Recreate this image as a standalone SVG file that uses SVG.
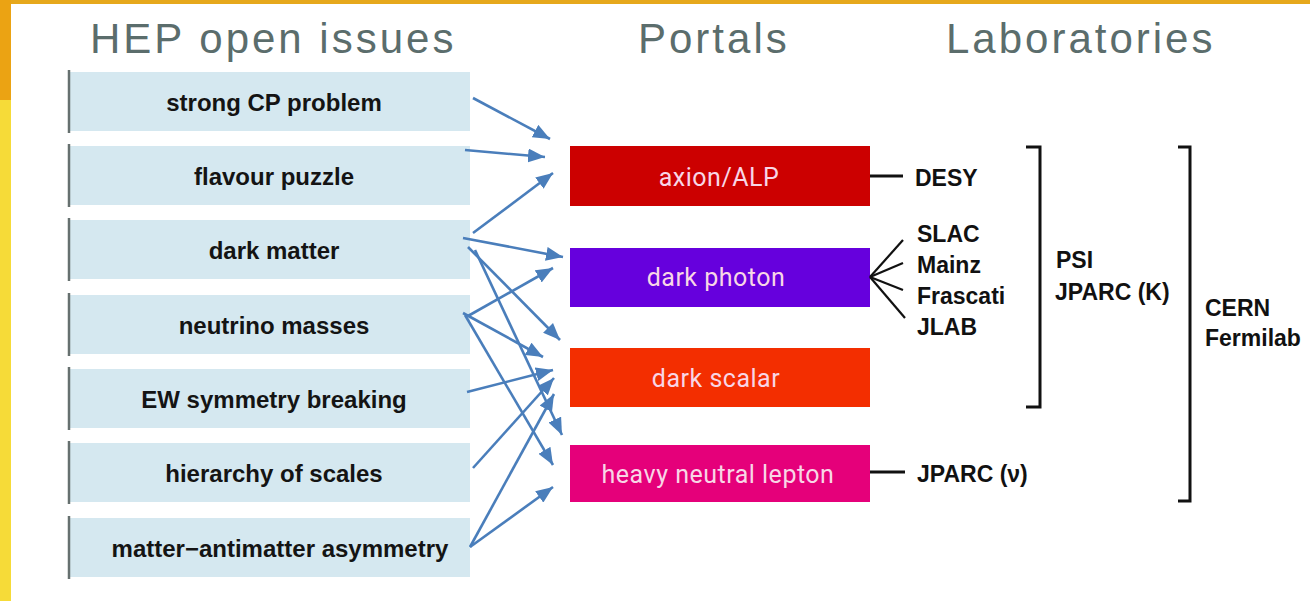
<svg xmlns="http://www.w3.org/2000/svg" width="1310" height="601" viewBox="0 0 1310 601">
  <style>
    .hdr { font-family: "Liberation Sans", Arial, sans-serif; font-size: 42px; fill: #5B6D6C; letter-spacing: 3px; }
    .issue rect.bg { fill: #D5E8F0; }
    .issue line.edge { stroke: #66706F; stroke-width: 2.5; }
    .issue text { font-family: "Liberation Sans", Arial, sans-serif; font-size: 24px; font-weight: bold; fill: #141414; text-anchor: middle; }
    .portal text { font-family: Roboto, "Liberation Sans", sans-serif; font-size: 25px; fill: #F8D6E6; text-anchor: middle; letter-spacing: 0.5px; }
    .lab text { font-family: "Liberation Sans", Arial, sans-serif; font-size: 23px; font-weight: bold; fill: #111; }
    .blk { stroke: #111; stroke-width: 3; fill: none; }
    .thin { stroke: #111; stroke-width: 2.2; fill: none; }
    .arr { stroke: #4A7EBB; stroke-width: 2.6; fill: none; marker-end: url(#ah); }
  </style>
  <defs>
    <marker id="ah" markerUnits="userSpaceOnUse" markerWidth="18" markerHeight="14" refX="17" refY="7" orient="auto">
      <path d="M0,0 L17,7 L0,14 z" fill="#4A7EBB"/>
    </marker>
  </defs>
  <rect x="0" y="0" width="1310" height="601" fill="#FFFFFF"/>
  <!-- frame -->
  <rect x="0" y="0" width="1310" height="4" fill="#E6A81C"/>
  <rect x="0" y="0" width="11" height="100" fill="#EBA313"/>
  <rect x="0" y="100" width="11" height="501" fill="#F6DB38"/>

  <!-- headers -->
  <text class="hdr" x="90" y="53">HEP open issues</text>
  <text class="hdr" x="638" y="53">Portals</text>
  <text class="hdr" x="946" y="53">Laboratories</text>

  <!-- issues -->
  <g id="issue-strongcp" class="issue"><rect class="bg" x="70" y="72" width="400" height="59"/><line class="edge" x1="69" y1="70" x2="69" y2="133"/><text x="274" y="111">strong CP problem</text></g>
  <g id="issue-flavour" class="issue"><rect class="bg" x="70" y="146" width="400" height="59"/><line class="edge" x1="69" y1="144" x2="69" y2="207"/><text x="274" y="185">flavour puzzle</text></g>
  <g id="issue-darkmatter" class="issue"><rect class="bg" x="70" y="220" width="400" height="59"/><line class="edge" x1="69" y1="218" x2="69" y2="281"/><text x="274" y="259">dark matter</text></g>
  <g id="issue-neutrino" class="issue"><rect class="bg" x="70" y="295" width="400" height="59"/><line class="edge" x1="69" y1="293" x2="69" y2="356"/><text x="274" y="334">neutrino masses</text></g>
  <g id="issue-ew" class="issue"><rect class="bg" x="70" y="369" width="400" height="59"/><line class="edge" x1="69" y1="367" x2="69" y2="430"/><text x="274" y="408">EW symmetry breaking</text></g>
  <g id="issue-hierarchy" class="issue"><rect class="bg" x="70" y="443" width="400" height="59"/><line class="edge" x1="69" y1="441" x2="69" y2="504"/><text x="274" y="482">hierarchy of scales</text></g>
  <g id="issue-asymmetry" class="issue"><rect class="bg" x="70" y="518" width="400" height="59"/><line class="edge" x1="69" y1="516" x2="69" y2="579"/><text x="280" y="557">matter−antimatter asymmetry</text></g>

  <!-- portals -->
  <g id="portal-axion" class="portal"><rect x="570" y="146" width="300" height="60" fill="#CC0000"/><text x="719" y="186">axion/ALP</text></g>
  <g id="portal-darkphoton" class="portal"><rect x="570" y="248" width="300" height="59" fill="#6600DD"/><text x="716" y="286">dark photon</text></g>
  <g id="portal-darkscalar" class="portal"><rect x="570" y="348" width="300" height="59" fill="#F32E00"/><text x="716" y="387">dark scalar</text></g>
  <g id="portal-hnl" class="portal"><rect x="570" y="445" width="300" height="57" fill="#E5007A"/><text x="718" y="483">heavy neutral lepton</text></g>

  <!-- labs -->
  <g id="lab-desy" class="lab"><text x="915" y="186">DESY</text></g>
  <g id="lab-group1" class="lab">
    <text x="917" y="242">SLAC</text>
    <text x="917" y="273">Mainz</text>
    <text x="917" y="304">Frascati</text>
    <text x="917" y="335">JLAB</text>
  </g>
  <g id="lab-psi" class="lab"><text x="1056" y="268">PSI</text><text x="1055" y="300">JPARC (K)</text></g>
  <g id="lab-cern" class="lab"><text x="1205" y="316">CERN</text><text x="1205" y="346">Fermilab</text></g>
  <g id="lab-jparc-nu" class="lab"><text x="917" y="482">JPARC (ν)</text></g>

  <!-- connectors -->
  <g id="connectors">
    <line class="blk" x1="870" y1="176" x2="903" y2="176"/>
    <line class="blk" x1="870" y1="472" x2="905" y2="472"/>
    <line class="thin" x1="870" y1="277" x2="903" y2="240"/>
    <line class="thin" x1="870" y1="277" x2="903" y2="263"/>
    <line class="thin" x1="870" y1="277" x2="903" y2="290"/>
    <line class="thin" x1="870" y1="277" x2="905" y2="318"/>
    <path class="blk" d="M1026,147 H1040 V407 H1026"/>
    <path class="blk" d="M1178,147 H1190 V501 H1178"/>

    <line class="arr" x1="473" y1="98" x2="550" y2="139"/>
    <line class="arr" x1="465" y1="150" x2="545" y2="157"/>
    <line class="arr" x1="473" y1="233" x2="553" y2="173"/>
    <line class="arr" x1="463" y1="238" x2="563" y2="257"/>
    <line class="arr" x1="468" y1="247" x2="560" y2="340"/>
    <line class="arr" x1="475" y1="250" x2="562" y2="435"/>
    <line class="arr" x1="468" y1="316" x2="553" y2="268"/>
    <line class="arr" x1="463" y1="313" x2="543" y2="357"/>
    <line class="arr" x1="465" y1="315" x2="553" y2="465"/>
    <line class="arr" x1="467" y1="392" x2="553" y2="370"/>
    <line class="arr" x1="473" y1="468" x2="554" y2="378"/>
    <line class="arr" x1="470" y1="547" x2="554" y2="394"/>
    <line class="arr" x1="470" y1="547" x2="553" y2="487"/>
  </g>
</svg>
